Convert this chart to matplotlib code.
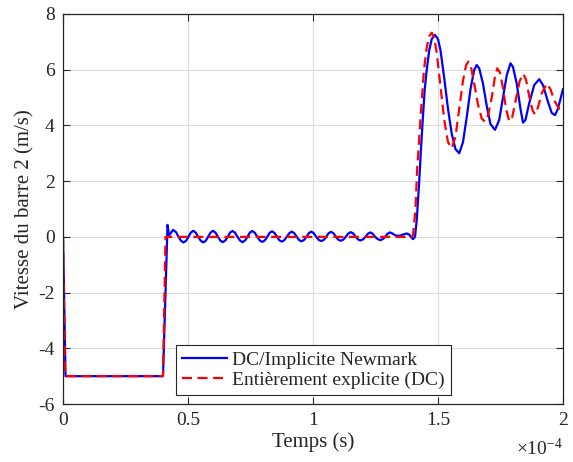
import numpy as np
import matplotlib
matplotlib.use("Agg")
import matplotlib.pyplot as plt

plt.rcParams['font.family'] = ['Liberation Serif', 'DejaVu Serif']
plt.rcParams['mathtext.fontset'] = 'custom'
plt.rcParams['mathtext.rm'] = 'Liberation Serif'
plt.rcParams['mathtext.it'] = 'Liberation Serif:italic'
plt.rcParams['axes.unicode_minus'] = False

# time in units of 1e-4 s, velocity in m/s
blue_t = [0.0, 0.01, 0.40, 0.418, 0.424, 0.440, 0.452, 0.462, 0.472, 0.482, 0.492,
          0.502, 0.511, 0.521, 0.531, 0.541, 0.551, 0.561, 0.571, 0.580, 0.590,
          0.600, 0.610, 0.620, 0.629, 0.639, 0.649, 0.659, 0.668, 0.678, 0.688,
          0.698, 0.708, 0.718, 0.728, 0.738, 0.747, 0.757, 0.767, 0.777, 0.787,
          0.797, 0.807, 0.817, 0.826, 0.836, 0.846, 0.856, 0.865, 0.875, 0.885,
          0.895, 0.905, 0.915, 0.925, 0.935, 0.944, 0.954, 0.964, 0.974, 0.983,
          0.993, 1.003, 1.013, 1.023, 1.033, 1.043, 1.053, 1.062, 1.072, 1.082,
          1.092, 1.101, 1.111, 1.121, 1.131, 1.141, 1.151, 1.161, 1.171, 1.180,
          1.190, 1.200, 1.210, 1.219, 1.229, 1.239, 1.249, 1.259, 1.269, 1.279,
          1.289, 1.298, 1.308, 1.318, 1.328, 1.338, 1.348, 1.362, 1.375, 1.385,
          1.392, 1.400, 1.408, 1.415, 1.425, 1.431, 1.439, 1.447, 1.455, 1.465,
          1.475, 1.488, 1.500, 1.510, 1.525, 1.540, 1.555, 1.570, 1.585, 1.600,
          1.615, 1.630, 1.645, 1.655, 1.665, 1.680, 1.695, 1.710, 1.728, 1.745,
          1.760, 1.775, 1.790, 1.800, 1.815, 1.830, 1.840, 1.850, 1.865, 1.885,
          1.905, 1.920, 1.940, 1.955, 1.968, 1.980, 1.990, 2.000]
blue_v = [0.0, -5.0, -5.0, 0.43, 0.05, 0.25, 0.17, 0.0, -0.14, -0.20, -0.14,
          0.0, 0.15, 0.22, 0.15, 0.0, -0.14, -0.20, -0.14, 0.0, 0.15,
          0.22, 0.15, 0.0, -0.13, -0.19, -0.13, 0.0, 0.15, 0.21, 0.15,
          0.0, -0.13, -0.19, -0.13, 0.0, 0.15, 0.21, 0.15, 0.0, -0.13,
          -0.18, -0.13, 0.0, 0.14, 0.20, 0.14, 0.0, -0.12, -0.17, -0.12,
          0.0, 0.13, 0.19, 0.13, 0.0, -0.11, -0.16, -0.11, 0.0, 0.13,
          0.19, 0.13, 0.0, -0.11, -0.15, -0.11, 0.0, 0.13, 0.18, 0.13,
          0.0, -0.10, -0.14, -0.10, 0.0, 0.12, 0.17, 0.12, 0.0, -0.09,
          -0.13, -0.09, 0.0, 0.11, 0.16, 0.11, 0.0, -0.08, -0.12, -0.08,
          0.0, 0.11, 0.16, 0.12, 0.06, 0.04, 0.04, 0.09, 0.12, 0.08,
          0.0, -0.08, 0.0, 0.6, 2.0, 3.0, 4.2, 5.3, 6.0, 6.7,
          7.1, 7.25, 7.1, 6.7, 5.7, 4.6, 3.7, 3.15, 3.0, 3.4,
          4.3, 5.3, 6.0, 6.17, 6.05, 5.5, 4.7, 4.05, 3.84, 4.2,
          5.0, 5.8, 6.23, 6.1, 5.5, 4.6, 4.1, 4.2, 4.8, 5.45,
          5.66, 5.45, 4.85, 4.45, 4.37, 4.6, 4.95, 5.3]

red_t = [0.0, 0.008, 0.400, 0.410, 1.395, 1.400, 1.410, 1.417, 1.421, 1.431,
         1.444, 1.455, 1.465, 1.475, 1.485, 1.495, 1.510, 1.525, 1.540, 1.555,
         1.570, 1.585, 1.600, 1.612, 1.621, 1.632, 1.645, 1.660, 1.675, 1.688,
         1.700, 1.715, 1.728, 1.737, 1.748, 1.760, 1.772, 1.785, 1.797, 1.812,
         1.827, 1.841, 1.852, 1.865, 1.878, 1.888, 1.900, 1.915, 1.935, 1.950,
         1.965, 1.984, 2.000]
red_v = [0.0, -5.0, -5.0, 0.0, 0.0, 0.05, 1.0, 2.5, 3.0, 4.4,
         6.0, 6.8, 7.2, 7.33, 7.15, 6.6, 5.4, 4.2, 3.4, 3.18,
         3.6, 4.6, 5.6, 6.15, 6.29, 6.1, 5.5, 4.75, 4.25, 4.13,
         4.35, 5.0, 5.75, 6.05, 5.9, 5.35, 4.6, 4.15, 4.3, 4.95,
         5.6, 5.85, 5.65, 5.05, 4.55, 4.4, 4.65, 5.15, 5.5, 5.3,
         4.9, 4.6, 4.75]

x_ticks = [0, 0.5, 1, 1.5, 2]
x_tick_labels = ['0', '0.5', '1', '1.5', '2']
y_ticks = [-6, -4, -2, 0, 2, 4, 6, 8]

dark = '#262626'

fig = plt.figure(figsize=(5.73, 4.62), dpi=100)
ax = fig.add_axes([0.110, 0.1255, 0.8725, 0.8442])

ax.plot(np.array(blue_t) * 1e-4, blue_v, color='#0000ff', lw=1.6,
        label='DC/Implicite Newmark')
ax.plot(np.array(red_t) * 1e-4, red_v, color='#ff0000', lw=1.6,
        dashes=(4.5, 2.5), label='Entièrement explicite (DC)')

ax.set_xlim(0, 2e-4)
ax.set_ylim(-6, 8)
ax.set_xticks(np.array(x_ticks) * 1e-4)
ax.set_xticklabels(x_tick_labels)
ax.set_yticks(y_ticks)
ax.text(1.0, -0.115, r'$\times10^{-4}$', transform=ax.transAxes, ha='right',
        va='center', fontsize=14, color=dark)

ax.grid(True, color='#dcdcdc', lw=0.8)
ax.set_axisbelow(True)
ax.tick_params(direction='in', top=True, right=True, labelsize=14, length=5,
               width=0.8, pad=6, colors=dark)
for s in ax.spines.values():
    s.set_linewidth(0.9)
    s.set_color(dark)

ax.set_xlabel('Temps (s)', fontsize=15, labelpad=2, color=dark)
ax.set_ylabel('Vitesse du barre 2 (m/s)', fontsize=15, labelpad=3, color=dark)

leg = ax.legend(loc='lower left', bbox_to_anchor=(0.226, 0.023), fontsize=14,
                frameon=True, fancybox=False, edgecolor=dark, framealpha=1,
                handlelength=2.3, labelspacing=0.15, borderpad=0.3,
                handletextpad=0.3, borderaxespad=0)
leg.get_frame().set_linewidth(0.8)
for txt in leg.get_texts():
    txt.set_color(dark)

fig.savefig('out.png', dpi=100)
